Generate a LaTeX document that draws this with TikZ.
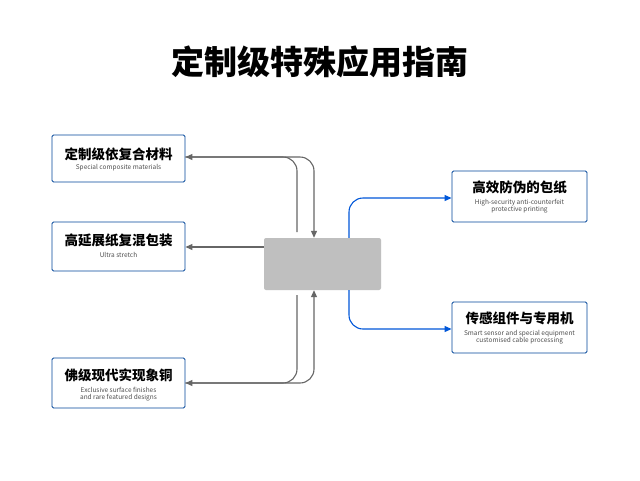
\documentclass[tikz,border=0pt]{standalone}
\usepackage{fontspec}
\setmainfont{Noto Sans CJK SC}
\usetikzlibrary{arrows.meta}
\begin{document}
\begin{tikzpicture}[x=1pt,y=-1pt,
 box/.style={draw=blue!55!cyan!60!black,line width=0.9pt,fill=white,rounded corners=1.5pt,inner sep=0pt},
 ttl/.style={font=\bfseries\fontsize{13.5}{14}\selectfont},
 sub/.style={font=\fontsize{6.5}{7.5}\selectfont,text=black!70,align=center},
 ga/.style={draw=black!60,line width=1.1pt,-{Triangle[length=7pt,width=6pt]},rounded corners=14pt},
 ba/.style={draw=blue!60!cyan!85!black,line width=1.1pt,-{Triangle[length=7pt,width=6pt]},rounded corners=14pt}]
\useasboundingbox (0,0) rectangle (640,480);
\fill[white] (0,0) rectangle (640,480);
\node[font=\bfseries\fontsize{33}{36}\selectfont] (title) at (320,62) {定制级特殊应用指南};
\node[fill=black!25,rounded corners=2pt,minimum width=117pt,minimum height=52pt] (c) at (322.5,264) {};
\node[box,minimum width=133pt,minimum height=47pt] (l1) at (118.5,158.5) {};
\node[ttl] (l1t) at (118.5,154) {定制级依复合材料};
\node[sub] (l1s) at (118.5,168) {Special composite materials};
\node[box,minimum width=133pt,minimum height=49pt] (l2) at (118.5,246.5) {};
\node[ttl] (l2t) at (118.5,240) {高延展纸复混包装};
\node[sub] (l2s) at (118.5,255) {Ultra stretch};
\node[box,minimum width=133pt,minimum height=50pt] (l3) at (118.5,383) {};
\node[ttl] (l3t) at (118.5,375) {佛级现代实现象铜};
\node[sub] (l3s) at (118.5,394) {Exclusive surface finishes\\and rare featured designs};
\node[box,minimum width=135pt,minimum height=51pt] (r1) at (519.5,196.5) {};
\node[ttl] (r1t) at (519.5,187) {高效防伪的包纸};
\node[sub] (r1s) at (519.5,206) {High-security anti-counterfeit\\protective printing};
\node[box,minimum width=135pt,minimum height=51pt] (r2) at (519.5,327.5) {};
\node[ttl] (r2t) at (519.5,318) {传感组件与专用机};
\node[sub] (r2s) at (519.5,337) {Smart sensor and special equipment\\customised cable processing};
\coordinate (a1) at (297,232);
\coordinate (a3) at (297,295);
\draw[ga] (a1) |- (l1.east |- 0,157);
\draw[ga] (l1.east |- 0,157) -| (c.north -| 314,0);
\draw[ga] (c.west |- 0,247) -- (l2.east |- 0,247);
\draw[ga] (a3) |- (l3.east |- 0,383);
\draw[ga] (l3.east |- 0,383) -| (c.south -| 314,0);
\draw[ba] (c.north -| 349,0) |- (r1.west |- 0,198);
\draw[ba] (c.south -| 349,0) |- (r2.west |- 0,329);
\end{tikzpicture}
\end{document}
